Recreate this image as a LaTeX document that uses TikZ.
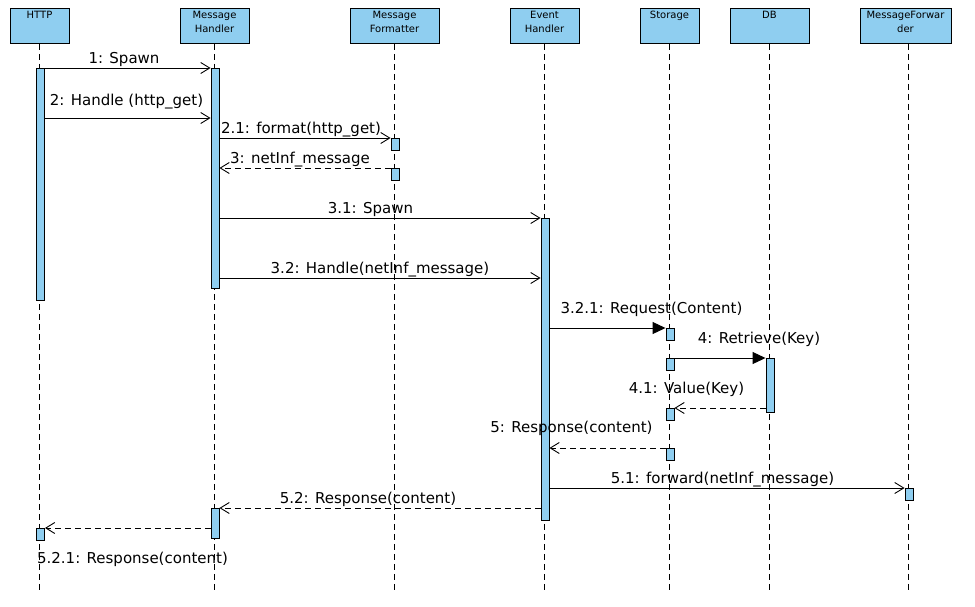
\documentclass[tikz,border=0pt]{standalone}
\usepackage{fontspec}
\usetikzlibrary{arrows.meta}
\newfontfamily\dejavu{DejaVu Sans}
\newcommand{\hdfont}{\dejavu\fontsize{10}{14}\selectfont}
\newcommand{\lbfont}{\dejavu\fontsize{15}{18}\selectfont}
\definecolor{lblue}{RGB}{143,206,240}
\tikzset{
  head/.style={draw, fill=lblue, line width=0.9pt, inner sep=0pt, anchor=north, minimum height=35pt},
  hlab/.style={anchor=north, font=\hdfont, align=center, inner sep=0pt, yshift=-3pt},
  life/.style={line width=0.9pt, dash pattern=on 6pt off 4pt},
  act/.style={draw, fill=lblue, line width=0.9pt, inner sep=0pt, anchor=north, minimum width=8pt},
  msg/.style={line width=0.9pt, -{Straight Barb[length=9pt,width=11pt,line width=0.9pt]}},
  rmsg/.style={msg, dash pattern=on 6pt off 4pt},
  smsg/.style={line width=0.9pt, -{Triangle[length=13pt,width=12pt]}},
  lbl/.style={font=\lbfont, inner sep=0pt, anchor=base}
}
\begin{document}
\begin{tikzpicture}[x=1pt,y=-1pt]
\useasboundingbox (0,0) rectangle (975,606);
% heads
\node[head, minimum width=59pt, label={[hlab]north:HTTP}] (hH) at (39.5,8) {};
\node[head, minimum width=69pt, label={[hlab]north:{Message\\Handler}}] (hM) at (214.5,8) {};
\node[head, minimum width=89pt, label={[hlab]north:{Message\\Formatter}}] (hF) at (394.5,8) {};
\node[head, minimum width=69pt, label={[hlab]north:{Event\\Handler}}] (hE) at (544.5,8) {};
\node[head, minimum width=59pt, label={[hlab]north:Storage}] (hS) at (669.5,8) {};
\node[head, minimum width=79pt, label={[hlab]north:DB}] (hD) at (769.5,8) {};
\node[head, minimum width=91pt, label={[hlab]north:{MessageForwar\\der}}] (hW) at (905.5,8) {};
% lifeline ends
\coordinate (eH) at (39.5,590);
\coordinate (eM) at (214,590);
\coordinate (eF) at (394,590);
\coordinate (eE) at (544,590);
\coordinate (eS) at (669,590);
\coordinate (eD) at (769,590);
\coordinate (eW) at (908,590);
\foreach \n in {H,M,F,E,S,D,W} { \draw[life] (h\n.south -| e\n) -- (e\n); }
% activations
\node[act, minimum height=232pt] (aH1) at (40.5,68) {};
\node[act, minimum height=220pt] (aM1) at (215,68) {};
\node[act, minimum height=12pt] (aF1) at (395,138) {};
\node[act, minimum height=12pt] (aF2) at (395,168) {};
\node[act, minimum height=302pt] (aE1) at (545,218) {};
\node[act, minimum height=12pt] (aS1) at (670,328) {};
\node[act, minimum height=12pt] (aS2) at (670,358) {};
\node[act, minimum height=12pt] (aS3) at (670,408) {};
\node[act, minimum height=12pt] (aS4) at (670,448) {};
\node[act, minimum height=54pt] (aD1) at (770,358) {};
\node[act, minimum height=12pt] (aW1) at (909,488) {};
\node[act, minimum height=30pt] (aM2) at (215,508) {};
\node[act, minimum height=12pt] (aH2) at (40.5,528) {};
% messages
\draw[msg] (aH1.east |- aM1.north) -- (aM1.north west);
\draw[msg] (aH1.east |- 0,118) -- (aM1.west |- 0,118);
\draw[msg] (aM1.east |- aF1.north) -- (aF1.north west);
\draw[rmsg] (aF2.north west) -- (aM1.east |- aF2.north);
\draw[msg] (aM1.east |- aE1.north) -- (aE1.north west);
\draw[msg] (aM1.east |- 0,278) -- (aE1.west |- 0,278);
\draw[smsg] (aE1.east |- aS1.north) -- (aS1.north west);
\draw[smsg] (aS2.north east) -- (aD1.north west);
\draw[rmsg] (aD1.west |- aS3.north) -- (aS3.north east);
\draw[rmsg] (aS4.north west) -- (aE1.east |- aS4.north);
\draw[msg] (aE1.east |- aW1.north) -- (aW1.north west);
\draw[rmsg] (aE1.west |- aM2.north) -- (aM2.north east);
\draw[rmsg] (aM2.west |- aH2.north) -- (aH2.north east);
% labels
\node[lbl] (l1) at (124,63) {1: Spawn};
\node[lbl] (l2) at (126.5,105) {2: Handle (http\_get)};
\node[lbl] (l21) at (301,133) {2.1: format(http\_get)};
\node[lbl] (l3) at (300,163) {3: netInf\_message};
\node[lbl] (l31) at (370.5,213) {3.1: Spawn};
\node[lbl] (l32) at (380,273) {3.2: Handle(netInf\_message)};
\node[lbl] (l321) at (651.5,313) {3.2.1: Request(Content)};
\node[lbl] (l4) at (759,343) {4: Retrieve(Key)};
\node[lbl] (l41) at (686.5,393) {4.1: Value(Key)};
\node[lbl] (l5) at (571.5,432) {5: Response(content)};
\node[lbl] (l51) at (722.5,483) {5.1: forward(netInf\_message)};
\node[lbl] (l52) at (368,503) {5.2: Response(content)};
\node[lbl] (l521) at (132.5,563) {5.2.1: Response(content)};
\end{tikzpicture}
\end{document}
